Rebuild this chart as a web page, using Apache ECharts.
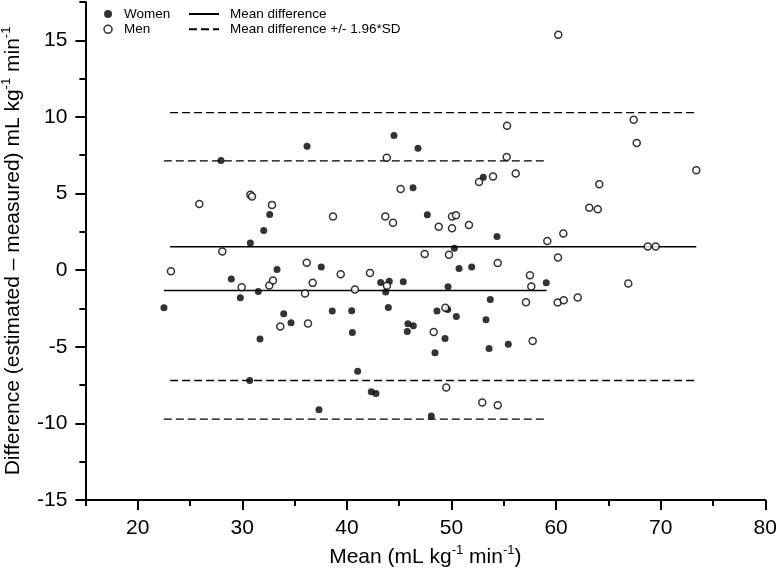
<!DOCTYPE html>
<html>
<head>
<meta charset="utf-8">
<script src="https://cdn.jsdelivr.net/npm/echarts@6/dist/echarts.min.js"></script>
<style>
html,body{margin:0;padding:0;background:#fff;}
#chart{width:776px;height:574px;}
</style>
</head>
<body>
<div id="chart"></div>
<script>
// ---- Data ----
const womenPoints = [
  [22.51,-2.46],[27.96,7.15],[36.19,8.09],[32.62,3.63],[32.05,2.58],[30.77,1.78],
  [44.50,8.78],[46.80,7.96],[53.04,6.07],[46.32,5.37],[47.69,3.61],[54.35,2.19],
  [50.27,1.43],[59.06,-0.82],[28.95,-0.57],[29.81,-1.80],[31.53,-1.40],[33.32,0.04],
  [33.96,-2.85],[34.66,-3.44],[31.69,-4.50],[30.71,-7.20],[37.55,0.20],[43.23,-0.81],
  [44.05,-0.72],[43.71,-1.42],[45.39,-0.76],[50.72,0.10],[51.93,0.20],[49.67,-1.09],
  [38.60,-2.67],[40.46,-2.65],[43.96,-2.44],[40.52,-4.07],[45.84,-3.50],[46.35,-3.63],
  [45.77,-4.01],[48.61,-2.67],[49.64,-2.57],[50.46,-3.03],[49.38,-4.46],[48.42,-5.39],
  [53.71,-1.92],[53.30,-3.24],[53.59,-5.11],[55.43,-4.83],[41.03,-6.59],[42.33,-7.94],
  [42.78,-8.05],[37.33,-9.11],[48.07,-9.52]
];
const menPoints = [
  [25.89,4.31],[30.77,4.92],[30.93,4.80],[32.84,4.26],[28.09,1.21],[43.81,7.33],
  [55.31,9.43],[55.28,7.39],[56.14,6.30],[52.63,5.76],[53.97,6.11],[45.14,5.30],
  [38.67,3.50],[43.67,3.50],[44.41,3.09],[50.05,3.50],[50.43,3.59],[48.78,2.84],
  [50.05,2.74],[51.67,2.94],[59.16,1.91],[47.44,1.06],[49.76,1.00],[60.21,15.37],
  [67.42,9.82],[67.71,8.30],[73.40,6.52],[64.13,5.61],[63.17,4.08],[63.98,3.98],
  [60.69,2.39],[68.76,1.54],[69.52,1.54],[60.18,0.83],[66.90,-0.87],[60.15,-2.11],
  [60.73,-1.96],[62.07,-1.79],[23.18,-0.07],[29.94,-1.11],[32.58,-1.00],[32.93,-0.68],
  [36.16,0.48],[36.00,-1.52],[33.63,-3.67],[36.28,-3.48],[36.73,-0.83],[39.41,-0.26],
  [40.77,-1.27],[42.21,-0.18],[43.83,-1.02],[54.42,0.46],[57.50,-0.33],[57.63,-1.07],
  [49.41,-2.46],[57.12,-2.09],[48.30,-4.04],[57.76,-4.63],[49.50,-7.66],[52.94,-8.64],
  [54.42,-8.81]
];
// x extent of each group's reference lines
const womenLineX = [22.5, 59.1];
const menLineX = [23.1, 73.4];
// [mean, upper limit, lower limit]
const womenStats = [-1.33, 7.13, -9.72];
const menStats = [1.53, 10.28, -7.20];
// axis ticks
const xTicks = [15, 80, 5];      // min, max, minor step
const yTicks = [-15, 17.5, 2.5]; // min, max, minor step
const xMajor = [20, 80, 10];     // first, last, major step
const yMajor = [-15, 15, 5];

const legendMarkers = ['Women', 'Men'];
const legendLines = ['Mean difference', 'Mean difference +/- 1.96*SD'];

// ---- Layout ----
const CW = 776, CH = 574;
const L = 85.4, R = 10.7, T = 2, B = 74;
const pw = CW - L - R, ph = CH - T - B;
const ux = pw / (xTicks[1] - xTicks[0]);
const uy = ph / (yTicks[1] - yTicks[0]);
const majL = L + (xMajor[0] - xTicks[0]) * ux;
const majT = T + (yTicks[1] - yMajor[1]) * uy;

const FONT = 'Liberation Sans, Arial, Helvetica, sans-serif';
const black = '#000';

function seg(name, xs, y, dashed) {
  return {
    name: name, type: 'line', xAxisIndex: 0, yAxisIndex: 0,
    data: [[xs[0], y], [xs[1], y]],
    showSymbol: false, symbol: 'none', silent: true, z: 1,
    lineStyle: { color: black, width: 1.4, type: dashed ? [8, 4] : 'solid' },
    itemStyle: { color: black }
  };
}
const hiddenAxis = (gi) => ({ type: 'value', gridIndex: gi, show: false, min: 0, max: 1 });
const majorTickAxis = (gi, m, pos) => ({
  type: 'value', gridIndex: gi, min: m[0], max: m[1], interval: m[2], position: pos,
  axisLine: { show: false, onZero: false },
  axisTick: { show: true, inside: false, length: 10, lineStyle: { color: black, width: 2 } },
  splitLine: { show: false }, axisLabel: { show: false }
});

const chart = echarts.init(document.getElementById('chart'), null, { renderer: 'canvas', width: CW, height: CH });

const supRich = { s: { fontSize: 13, verticalAlign: 'top', lineHeight: 26, fontFamily: FONT, color: black } };

const option = {
  animation: false,
  backgroundColor: '#fff',
  textStyle: { fontFamily: FONT },
  grid: [
    { left: L, right: R, top: T, bottom: B, containLabel: false, outerBoundsMode: 'none' },
    { left: majL, right: R, top: T, bottom: B, containLabel: false, outerBoundsMode: 'none' },
    { left: L, right: R, top: majT, bottom: B, containLabel: false, outerBoundsMode: 'none' }
  ],
  legend: [
    {
      data: legendMarkers.map((n, i) => ({
        name: n, icon: 'circle',
        itemStyle: i === 0 ? { color: black, borderWidth: 0 } : { color: '#fff', borderColor: black, borderWidth: 1.5 }
      })),
      orient: 'vertical', left: 103.3, top: 6.5, padding: 0, itemWidth: 8, itemHeight: 8, itemGap: 0.3,
      selectedMode: false,
      textStyle: { fontSize: 13.5, color: black, fontFamily: FONT, lineHeight: 15, padding: [0, 0, 0, 7] }
    },
    {
      data: legendLines,
      orient: 'vertical', left: 188, top: 6.5, padding: 0, itemWidth: 30, itemHeight: 8, itemGap: 0.3,
      selectedMode: false,
      itemStyle: { opacity: 0 },
      textStyle: { fontSize: 13.5, color: black, fontFamily: FONT, lineHeight: 15, padding: [0, 0, 0, 6] }
    }
  ],
  xAxis: [
    {
      type: 'value', gridIndex: 0, min: xTicks[0], max: xTicks[1], interval: xTicks[2],
      axisLine: { show: true, onZero: false, lineStyle: { color: black, width: 2 } },
      axisTick: { show: true, inside: false, length: 6, lineStyle: { color: black, width: 2 } },
      splitLine: { show: false },
      axisLabel: {
        formatter: v => (v % 10 === 0 ? String(v) : ''),
        fontSize: 21, color: black, margin: 18, fontFamily: FONT
      },
      name: 'Mean (mL kg{s|-1} min{s|-1})',
      nameLocation: 'middle', nameGap: 44,
      nameTextStyle: { fontSize: 21, color: black, fontFamily: FONT, lineHeight: 26, rich: supRich }
    },
    majorTickAxis(1, xMajor, 'bottom'),
    hiddenAxis(2)
  ],
  yAxis: [
    {
      type: 'value', gridIndex: 0, min: yTicks[0], max: yTicks[1], interval: yTicks[2],
      axisLine: { show: true, onZero: false, lineStyle: { color: black, width: 2 } },
      axisTick: { show: true, inside: false, length: 6, lineStyle: { color: black, width: 2 } },
      splitLine: { show: false },
      axisLabel: {
        formatter: v => (v % 5 === 0 ? String(v) : ''),
        fontSize: 21, color: black, margin: 18, fontFamily: FONT
      },
      name: 'Difference (estimated – measured) mL kg{s|-1} min{s|-1}',
      nameLocation: 'middle', nameGap: 53,
      nameTextStyle: { fontSize: 21, color: black, fontFamily: FONT, lineHeight: 26, rich: supRich }
    },
    hiddenAxis(1),
    majorTickAxis(2, yMajor, 'left')
  ],
  series: [
    {
      name: 'Women', type: 'scatter', xAxisIndex: 0, yAxisIndex: 0, data: womenPoints,
      symbol: 'circle', symbolSize: 7, z: 3,
      itemStyle: { color: black, borderWidth: 0 }
    },
    {
      name: 'Men', type: 'scatter', xAxisIndex: 0, yAxisIndex: 0, data: menPoints,
      symbol: 'circle', symbolSize: 7, z: 3,
      itemStyle: { color: '#fff', borderColor: black, borderWidth: 1.5 }
    },
    seg(legendLines[0], womenLineX, womenStats[0], false),
    seg(legendLines[0], menLineX, menStats[0], false),
    seg(legendLines[1], womenLineX, womenStats[1], true),
    seg(legendLines[1], womenLineX, womenStats[2], true),
    seg(legendLines[1], menLineX, menStats[1], true),
    seg(legendLines[1], menLineX, menStats[2], true)
  ]
};
chart.setOption(option);
</script>
</body>
</html>
